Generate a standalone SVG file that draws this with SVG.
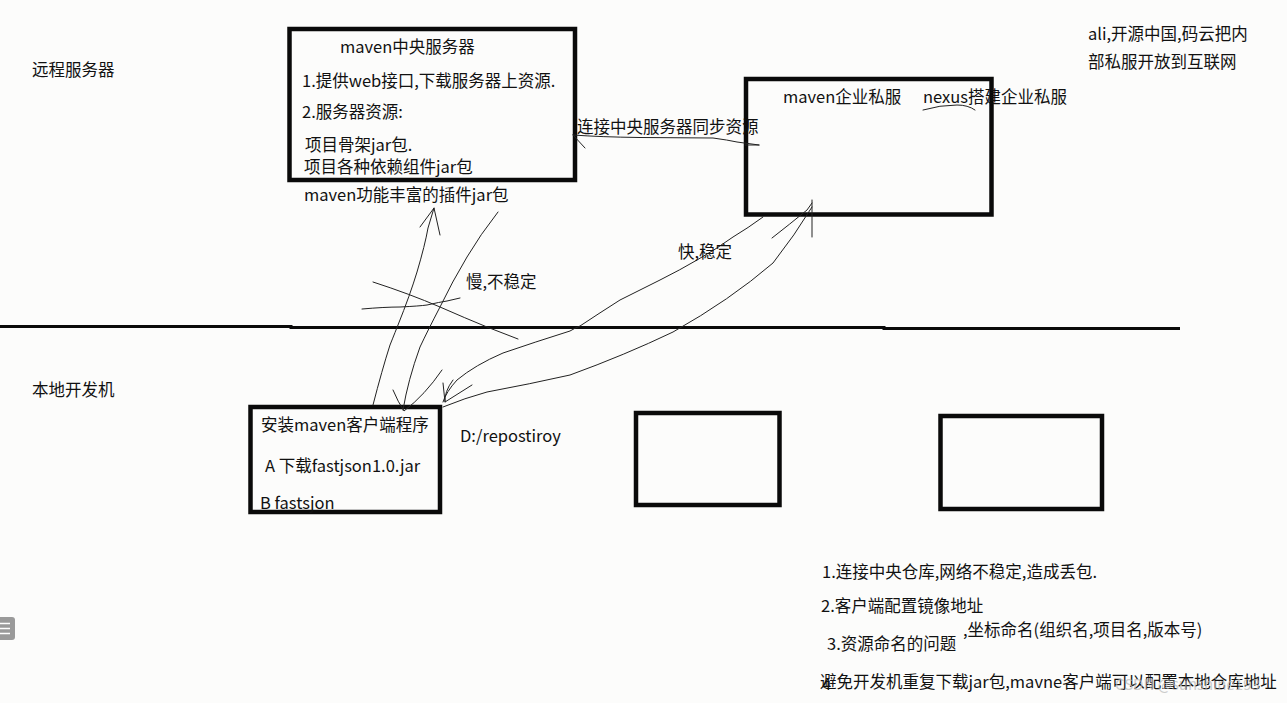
<svg xmlns="http://www.w3.org/2000/svg" width="1287" height="703" viewBox="0 0 1287 703">
<style>
text{font-family:"Noto Sans CJK SC","Microsoft YaHei",sans-serif;font-size:16.5px;fill:#111}
.box{fill:none;stroke:#0a0a0a;stroke-width:4.5}
.ink{fill:none;stroke:#222;stroke-width:1;stroke-linecap:round;stroke-linejoin:round}
</style>
<rect width="1287" height="703" fill="#fcfcfb"/>
<g id="labels">
<text x="32" y="76">远程服务器</text>
<text x="32" y="396">本地开发机</text>
<text x="1088" y="40">ali,开源中国,码云把内</text>
<text x="1088" y="68">部私服开放到互联网</text>
</g>
<g id="divider">
<polyline points="0,326.5 291,326.5 291,327.5 884,327.5 884,328.5 1180,328.5" fill="none" stroke="#0a0a0a" stroke-width="3"/>
</g>
<g id="central-server">
<rect class="box" x="289.5" y="29" width="285.5" height="151"/>
<text x="340" y="53">maven中央服务器</text>
<text x="302" y="87">1.提供web接口,下载服务器上资源.</text>
<text x="302" y="118">2.服务器资源:</text>
<text x="305" y="151">项目骨架jar包.</text>
<text x="304" y="173">项目各种依赖组件jar包</text>
<text x="304" y="201">maven功能丰富的插件jar包</text>
</g>
<g id="enterprise-server">
<rect class="box" x="746" y="79" width="245.5" height="135.5"/>
<text x="783" y="103">maven企业私服</text>
<text x="923" y="103">nexus搭建企业私服</text>
<path class="ink" d="M923,110 Q940,105 957,105 Q968,105 975,110"/>
</g>
<g id="client">
<rect class="box" x="250.5" y="407" width="189.5" height="105"/>
<text x="261" y="431">安装maven客户端程序</text>
<text x="265" y="472">A 下载fastjson1.0.jar</text>
<text x="260" y="509">B fastsjon</text>
</g>
<text x="460" y="442">D:/repostiroy</text>
<g id="box-2"><rect class="box" x="636" y="413" width="143.5" height="92"/></g>
<g id="box-3"><rect class="box" x="940.5" y="416" width="161.5" height="93"/></g>
<g id="notes">
<text x="822" y="578">1.连接中央仓库,网络不稳定,造成丢包.</text>
<text x="821" y="612">2.客户端配置镜像地址</text>
<text x="827" y="650">3.资源命名的问题</text>
<text x="963" y="636">,坐标命名(组织名,项目名,版本号)</text>
<text x="822" y="690">4</text>
<text x="820" y="688">避免开发机重复下载jar包,mavne客户端可以配置本地仓库地址</text>
<text x="1115" y="690" style="fill:#b8b8b8;opacity:0.7;font-size:15px">CSDN @sunshine193</text>
</g>
<g id="connectors">
<!-- sync link -->
<text x="577" y="133">连接中央服务器同步资源</text>
<path class="ink" d="M573,135 Q600,137 640,137.5 L713,138 Q728,140 737,142 L759,145"/>
<path class="ink" d="M573,135 L585,148"/>
<path class="ink" d="M745,145 L759,145"/>
<!-- slow up path -->
<path class="ink" d="M373,405 Q382,370 390,345 Q396,330 398,325 Q410,295 417,272 Q425,245 428,228 L434,208"/>
<path class="ink" d="M420,227 L434,208 L440,235"/>
<!-- slow down path -->
<path class="ink" d="M498,212 Q480,235 467,257 Q452,282 440,307 Q428,330 420,347 Q408,380 403,410"/>
<path class="ink" d="M393,390 Q398,402 404,411 Q425,395 442,370"/>
<text x="466" y="288">慢,不稳定</text>
<!-- cross marks -->
<path class="ink" d="M373,282 Q410,294 440,307 Q465,318 487,327 L518,339"/>
<path class="ink" d="M362,309 Q385,307 400,307 Q420,306 427,305 Q440,302 447,301 L460,298"/>
<!-- fast path: enterprise to client -->
<path class="ink" d="M763,217 Q748,228 733,237 Q715,250 697,260 Q680,270 660,280 Q640,290 620,300 Q598,314 580,326 Q575,328 570,331 Q535,342 503,353 Q475,365 457,380 Q446,392 443,402"/>
<path class="ink" d="M443,383 L445,402 L472,385"/>
<path class="ink" d="M453,380 Q444,392 445,402"/>
<!-- fast path: client to enterprise -->
<path class="ink" d="M443,407 Q465,398 487,392 Q530,384 570,375 Q625,355 673,332 Q730,300 773,263 Q795,235 812,207"/>
<path class="ink" d="M812,200 L812,237"/>
<path class="ink" d="M772,238 Q790,224 807,210 L812,203"/>
<text x="678" y="258">快,稳定</text>
</g>
<g id="menu-icon">
<rect x="-4" y="617" width="19" height="23" rx="3" fill="#9a9a9a"/>
<path d="M0,623.5 H10 M0,628.5 H10 M0,633.5 H10" stroke="#fff" stroke-width="1.5"/>
</g>
</svg>
